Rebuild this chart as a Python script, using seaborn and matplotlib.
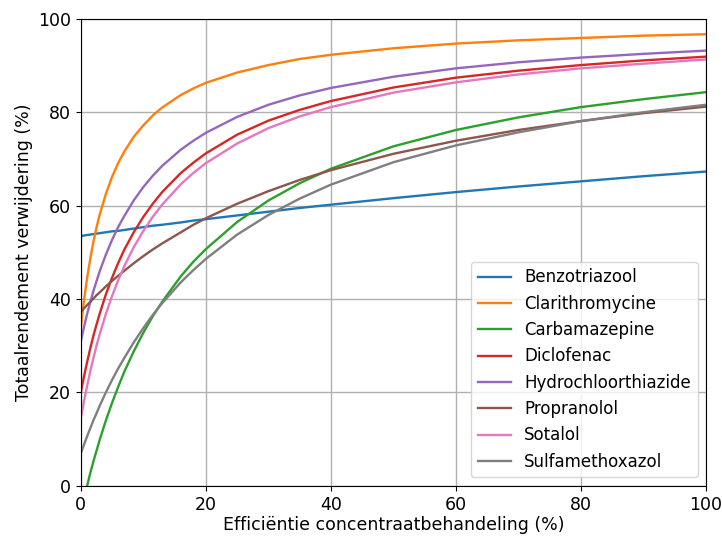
import pandas as pd
import matplotlib.pyplot as plt
import seaborn as sns

efficiency = [0, 0.5, 1, 1.5, 2, 2.5, 3, 4, 5, 6, 7, 8.5, 10, 11.5, 13, 16, 18, 20,
              25, 30, 35, 40, 50, 60, 70, 80, 90, 100]

benzotriazool = [53.5, 53.6, 53.7, 53.8, 53.9, 54.0, 54.1, 54.3, 54.5, 54.6, 54.8, 55.1, 55.4, 55.7,
                 55.9, 56.4, 56.8, 57.1, 57.9, 58.7, 59.5, 60.2, 61.6, 62.9, 64.1, 65.2, 66.3, 67.3]
clarithromycine = [34.0, 39.7, 44.5, 48.6, 52.2, 55.3, 58.0, 62.5, 66.2, 69.2, 71.7, 74.8, 77.2, 79.3,
                   81.0, 83.7, 85.1, 86.3, 88.5, 90.1, 91.4, 92.3, 93.7, 94.7, 95.4, 95.9, 96.4, 96.7]
carbamazepine = [-5.7, -2.8, 0.0, 2.7, 5.2, 7.5, 9.8, 14.0, 17.8, 21.3, 24.6, 28.9, 32.8, 36.3,
                 39.4, 44.9, 48.0, 50.7, 56.5, 61.1, 64.8, 67.9, 72.7, 76.2, 78.9, 81.1, 82.8, 84.3]
diclofenac = [20.0, 23.4, 26.5, 29.4, 32.1, 34.5, 36.8, 41.0, 44.6, 47.8, 50.7, 54.4, 57.6, 60.4,
              62.9, 67.0, 69.2, 71.2, 75.2, 78.2, 80.5, 82.4, 85.3, 87.4, 88.9, 90.1, 91.1, 91.9]
hydrochloorthiazide = [31.0, 34.0, 36.8, 39.3, 41.7, 43.8, 45.9, 49.5, 52.7, 55.5, 57.9, 61.2, 64.0, 66.4,
                       68.5, 72.0, 73.9, 75.6, 79.0, 81.6, 83.6, 85.2, 87.6, 89.4, 90.7, 91.7, 92.5, 93.2]
propranolol = [37.3, 38.0, 38.7, 39.4, 40.1, 40.8, 41.4, 42.7, 43.9, 45.0, 46.1, 47.7, 49.2, 50.6,
               51.9, 54.3, 55.9, 57.3, 60.4, 63.1, 65.5, 67.6, 71.1, 73.9, 76.2, 78.1, 79.8, 81.2]
sotalol = [14.5, 18.1, 21.4, 24.5, 27.3, 30.0, 32.4, 36.8, 40.7, 44.1, 47.2, 51.2, 54.6, 57.6,
           60.2, 64.6, 67.0, 69.1, 73.3, 76.6, 79.1, 81.1, 84.2, 86.4, 88.1, 89.4, 90.4, 91.3]
sulfamethoxazol = [7.0, 8.8, 10.6, 12.3, 14.0, 15.5, 17.1, 20.0, 22.7, 25.2, 27.5, 30.8, 33.8, 36.6,
                   39.1, 43.6, 46.2, 48.6, 53.8, 58.0, 61.5, 64.5, 69.3, 72.9, 75.7, 78.1, 80.0, 81.6]

series = {
    "Benzotriazool": benzotriazool,
    "Clarithromycine": clarithromycine,
    "Carbamazepine": carbamazepine,
    "Diclofenac": diclofenac,
    "Hydrochloorthiazide": hydrochloorthiazide,
    "Propranolol": propranolol,
    "Sotalol": sotalol,
    "Sulfamethoxazol": sulfamethoxazol,
}

if __name__ == "__main__":

    rows = []
    for name, vals in series.items():
        for e, v in zip(efficiency, vals):
            rows.append({"stof": name, "eff": e, "rend": v})
    df = pd.DataFrame(rows)

    plt.rcParams['font.size'] = 12.5

    f, ax = plt.subplots(figsize=(7.22, 5.38), dpi=100)
    f.subplots_adjust(left=0.112, right=0.978, top=0.965, bottom=0.097)

    sns.lineplot(data=df, x="eff", y="rend", hue="stof", palette="tab10",
                 linewidth=1.7, ax=ax, sort=False)

    ax.set_xlim(0, 100)
    ax.set_ylim(0, 100)
    ax.set_xticks([0, 20, 40, 60, 80, 100])
    ax.set_yticks([0, 20, 40, 60, 80, 100])
    ax.grid(True, color="#b0b0b0", linewidth=1.0)
    ax.set_axisbelow(True)
    ax.set_xlabel("Efficiëntie concentraatbehandeling (%)", labelpad=2)
    ax.set_ylabel("Totaalrendement verwijdering (%)")

    leg = ax.legend(loc="lower right", title=None, fontsize=12)
    for line in leg.get_lines():
        line.set_linewidth(1.7)

    plt.savefig("out.png", dpi=100)
